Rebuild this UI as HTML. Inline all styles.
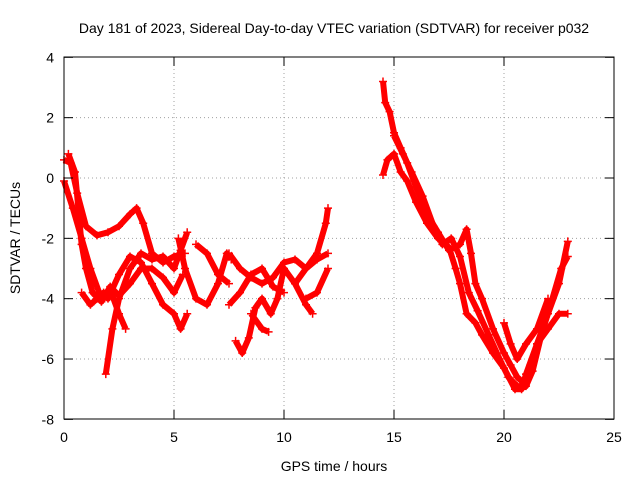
<!DOCTYPE html>
<html><head><meta charset="utf-8"><style>
body{margin:0;background:#fff;}
svg text{font-family:"Liberation Sans",sans-serif;font-size:14px;fill:#000;}
</style></head><body>
<svg id="chart" width="640" height="480" xmlns="http://www.w3.org/2000/svg">
<text x="334" y="33" text-anchor="middle">Day 181 of 2023, Sidereal Day-to-day VTEC variation (SDTVAR) for receiver p032</text>
<g id="grid"></g><g id="series"></g>
<rect x="64" y="57" width="550" height="362" fill="none" stroke="#000" stroke-width="1"/>
<g id="ticks"></g>
<text x="334" y="471" text-anchor="middle">GPS time / hours</text>
<text transform="translate(20,238) rotate(-90)" text-anchor="middle">SDTVAR / TECUs</text>
</svg>
<script>
const xTicks=[0,5,10,15,20,25];
const yTicks=[4,2,0,-2,-4,-6,-8];
const t1=[[0,0.6],[0.3,0.5],[0.6,-0.5],[1,-1.6],[1.5,-1.9],[2,-1.8],[2.5,-1.6],[3,-1.2],[3.3,-1.0],[3.6,-1.5],[4,-2.5],[4.5,-2.8],[5,-2.6],[5.5,-2.5]];
const t2=[[0,-0.1],[0.4,-1],[0.8,-2],[1.2,-3],[1.6,-3.8],[2,-4],[2.5,-3.2],[3,-2.6],[3.5,-2.8],[4,-3.5],[4.5,-4.2],[5,-4.5],[5.3,-5],[5.6,-4.5]];
const t3=[[0.2,0.8],[0.5,0.2],[0.8,-2.2],[1,-3.0],[1.3,-3.8],[1.7,-4.1],[2.1,-3.6],[2.5,-3.9],[3,-3.5],[3.5,-3],[4,-3],[4.5,-3.3],[5,-3.8],[5.4,-3.2]];
const t4=[[0.8,-3.8],[1.2,-4.2],[1.5,-4.0],[1.8,-3.8],[2.2,-3.9],[2.5,-4.5],[2.8,-5]];
const t5=[[1.9,-6.5],[2.2,-5],[2.5,-4],[3,-3],[3.5,-2.5],[4,-2.7],[4.5,-2.6],[5,-3],[5.3,-2.4],[5.6,-1.8]];
const t6=[[5.2,-2.0],[5.5,-3],[6,-4],[6.5,-4.2],[7,-3.5],[7.4,-2.5],[7.6,-2.7]];
const t7=[[6,-2.2],[6.5,-2.5],[7,-3.2],[7.5,-3.5]];
const t8=[[7.5,-2.5],[8,-3],[8.5,-3.3],[9,-3.5],[9.5,-3.3],[10,-2.8],[10.5,-2.7],[11,-3],[11.5,-2.7],[12,-2.5]];
const t9=[[7.8,-5.4],[8.1,-5.8],[8.4,-5.3],[8.7,-4.3],[9,-4],[9.4,-4.5],[9.7,-4],[10,-3],[10.5,-3.5],[11,-4.2],[11.3,-4.5]];
const t10=[[10.5,-3.5],[11,-3],[11.5,-2.5],[11.9,-1.5],[12,-1.0]];
const t11=[[11,-4],[11.5,-3.8],[12,-3]];
const t12=[[8.5,-4.5],[9,-5],[9.3,-5.1]];
const t13=[[7.5,-4.2],[8,-3.8],[8.5,-3.2],[9,-3],[9.5,-3.6],[10,-3.8]];
const r1=[[14.5,3.2],[14.6,2.5],[14.8,2.2],[15,1.5],[15.3,1.0],[15.6,0.5],[16,-0.3],[16.5,-1.2],[17,-1.8],[17.5,-2.4],[18,-2.2],[18.3,-1.7],[18.5,-2.5],[18.7,-3.5],[19,-4],[19.5,-5],[20,-5.8],[20.3,-6.2],[20.6,-6.6],[20.9,-6.8],[21.2,-6.2],[21.5,-5.5],[22,-4.5],[22.5,-3.5],[22.9,-2.1]];
const r2=[[14.5,0.1],[14.7,0.6],[15,0.8],[15.3,0.2],[15.6,-0.1],[16,-0.8],[16.5,-1.5],[17,-2],[17.5,-2.3],[17.8,-3],[18,-3.5],[18.3,-4.5],[18.7,-4.8],[19,-5.2],[19.5,-5.8],[20,-6.3],[20.5,-7],[20.8,-7],[21,-6.5],[21.5,-5.5],[22,-5],[22.5,-4.5],[22.9,-4.5]];
const r3=[[20,-4.8],[20.3,-5.5],[20.6,-6],[21,-5.5],[21.5,-5],[22,-4]];
const r4=[[15,1.4],[15.4,0.8],[15.8,0.2],[16.3,-0.6],[16.8,-1.6],[17.2,-2.2],[17.6,-2],[18,-2.6],[18.4,-3.8],[18.8,-4.4],[19.3,-5.2],[19.8,-6],[20.2,-6.6],[20.6,-6.9],[21,-6.9],[21.3,-6.4],[21.7,-5.2],[22.2,-4],[22.6,-3],[22.9,-2.6]];
const tracks=[t1,t2,t3,t4,t5,t6,t7,t8,t9,t10,t11,t12,t13,r1,r2,r3,r4];
const X=v=>64+v*22, Y=v=>178-v*30.17;
const NS="http://www.w3.org/2000/svg";
const grid=document.getElementById('grid'),ticks=document.getElementById('ticks'),ser=document.getElementById('series');
function mk(t,a,p){const e=document.createElementNS(NS,t);for(const k in a)e.setAttribute(k,a[k]);p.appendChild(e);return e;}
xTicks.forEach(v=>{
 if(v>0&&v<25){const g=mk('line',{x1:X(v),x2:X(v),y1:57,y2:419,stroke:'#a0a0a0','stroke-dasharray':'1,3'},grid);
 
 }
 mk('line',{x1:X(v),x2:X(v),y1:419,y2:410,stroke:'#000'},ticks);
 mk('line',{x1:X(v),x2:X(v),y1:57,y2:66,stroke:'#000'},ticks);
 const t=mk('text',{x:X(v),y:442,'text-anchor':'middle'},ticks);t.textContent=v;
 
 
});
yTicks.forEach(v=>{
 if(v>-8&&v<4){const g=mk('line',{x1:64,x2:614,y1:Y(v),y2:Y(v),stroke:'#a0a0a0','stroke-dasharray':'1,3'},grid);
 
 }
 mk('line',{x1:64,x2:73,y1:Y(v),y2:Y(v),stroke:'#000'},ticks);
 mk('line',{x1:614,x2:605,y1:Y(v),y2:Y(v),stroke:'#000'},ticks);
 const t=mk('text',{x:54,y:Y(v)+5,'text-anchor':'end'},ticks);t.textContent=v;
 
 
});
tracks.forEach(tr=>{
 const pl=mk('polyline',{points:tr.map(p=>X(p[0])+','+Y(p[1])).join(' '),fill:'none',stroke:'#f00','stroke-width':6,'stroke-linejoin':'round'},ser);
 
 
 tr.forEach(p=>{const x=X(p[0]),y=Y(p[1]);
  const m=mk('path',{d:`M${x-4},${y}H${x+4}M${x},${y-4}V${y+4}`,stroke:'#f00','stroke-width':1.5},ser);
  
  });
});
</script>
</body></html>
